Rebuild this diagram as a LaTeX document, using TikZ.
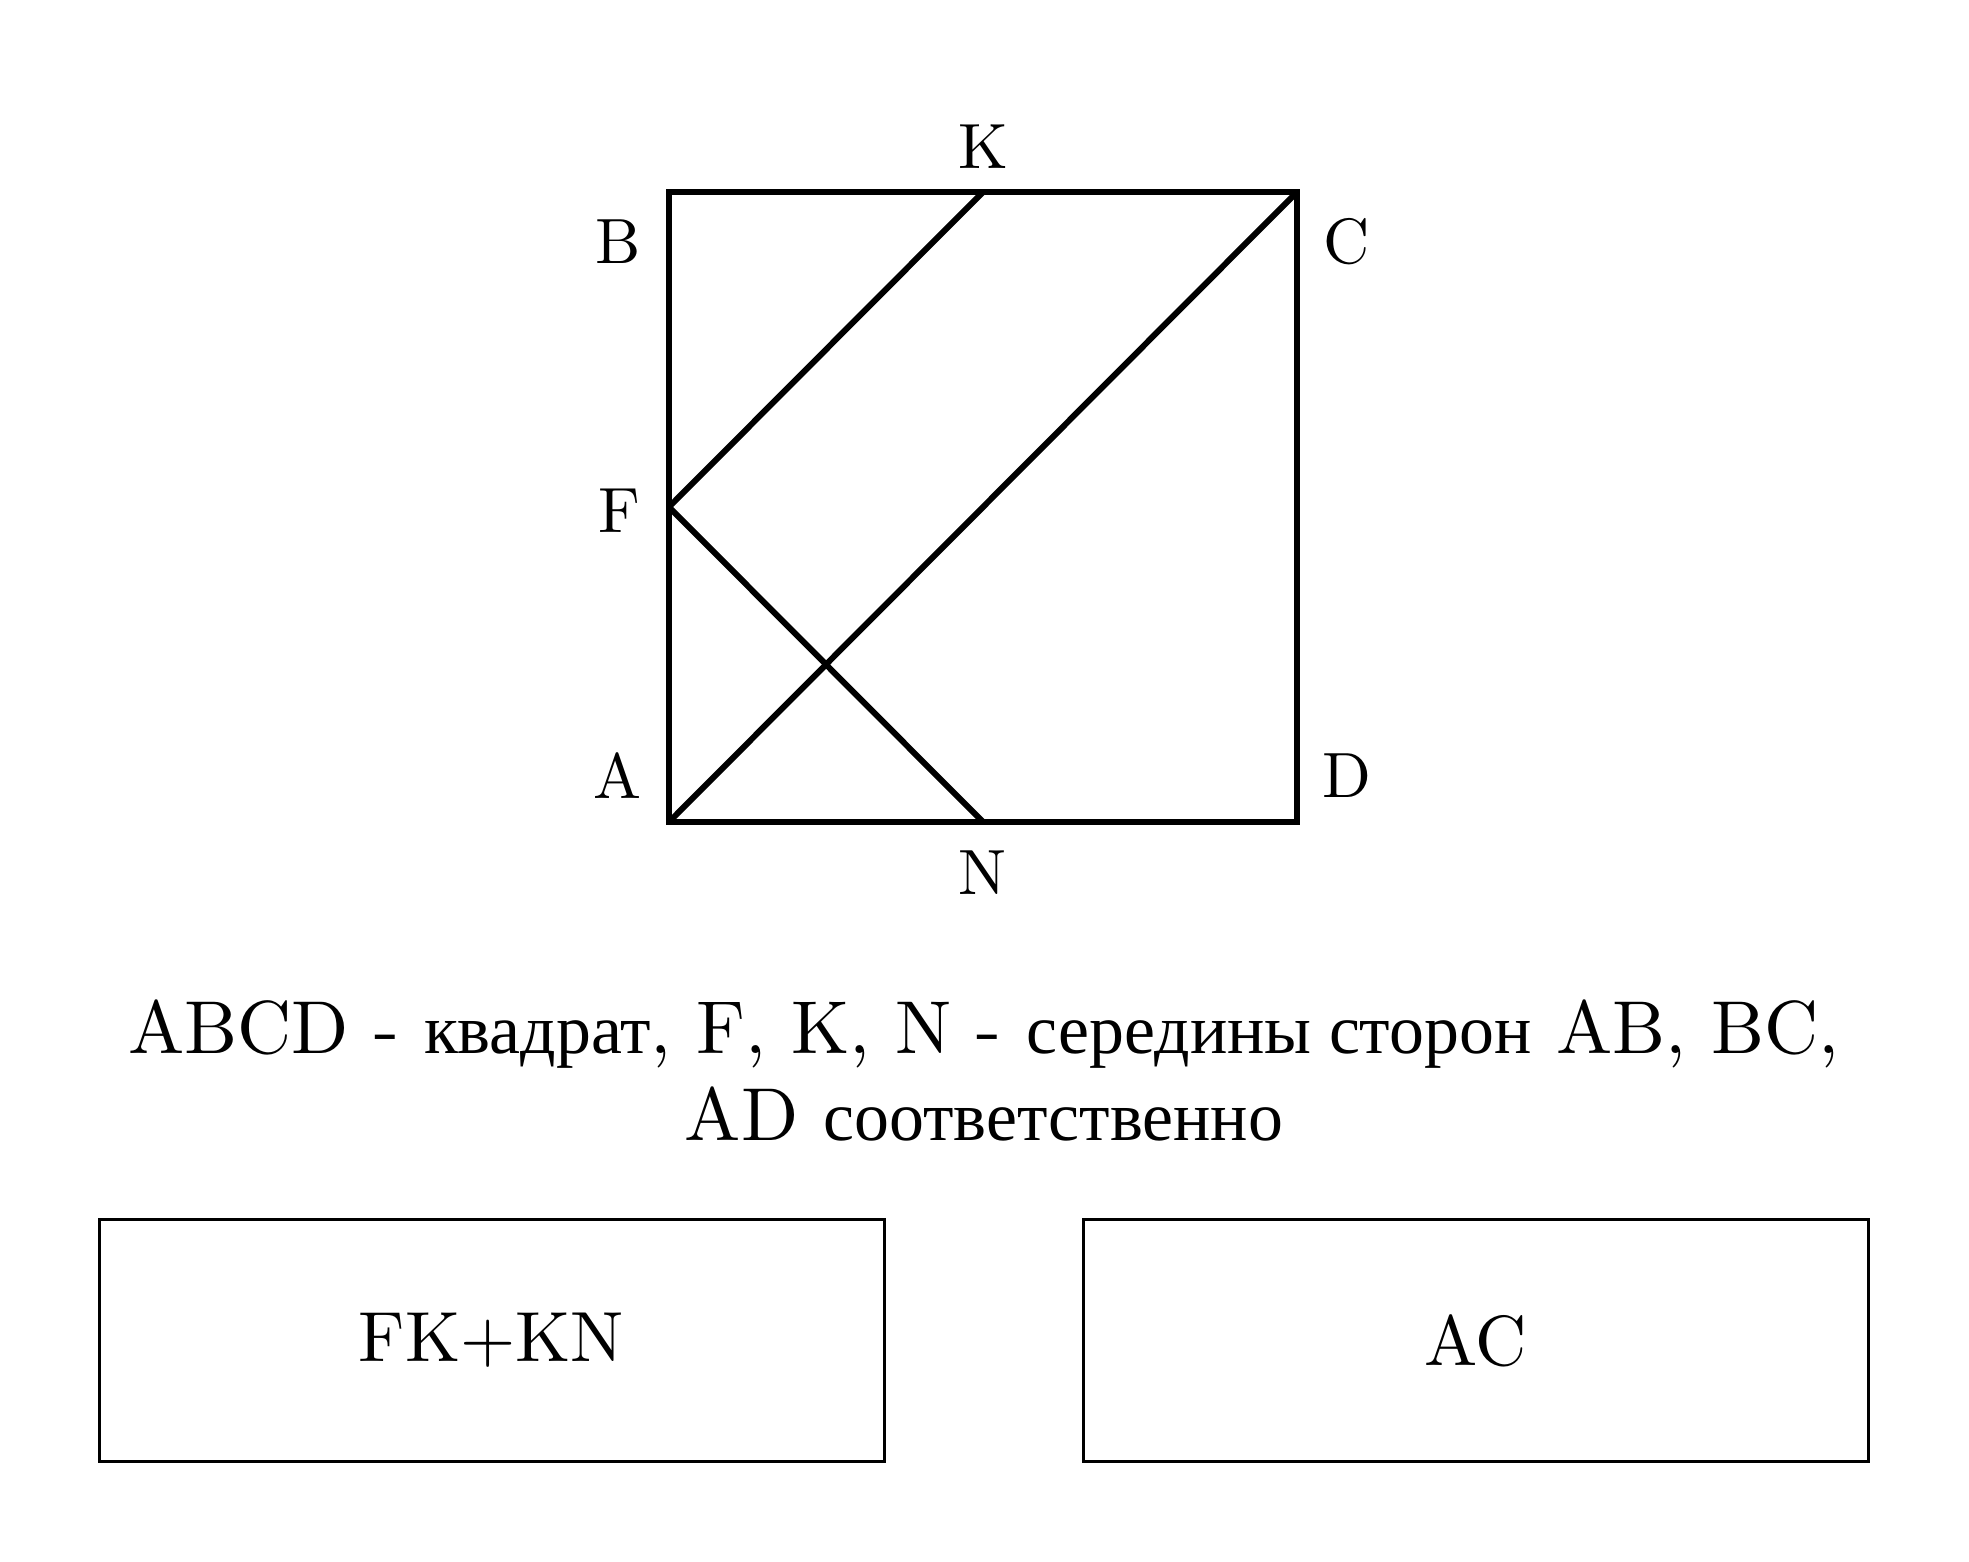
\documentclass[tikz,border=0pt]{standalone}
\usepackage{fontspec}
\setmainfont{lmroman10-regular.otf}
\newfontfamily\cyr{Liberation Serif}[Scale=0.93]
\begin{document}
\begin{tikzpicture}[x=0.5pt,y=-0.5pt,
  geo/.style={line width=3pt,line join=miter},
  lab/.style={inner sep=0pt,font=\fontsize{32}{38}\selectfont},
  ansbox/.style={draw,line width=1.5pt,minimum width=392.5pt,minimum height=121pt,inner sep=0pt,font=\fontsize{35.5}{42}\selectfont}]
\useasboundingbox (0,0) rectangle (1969,1562);
\coordinate (A) at (669,822);
\coordinate (B) at (669,192);
\coordinate (C) at (1297,192);
\coordinate (D) at (1297,822);
\coordinate (K) at (983,192);
\coordinate (F) at (669,507);
\coordinate (N) at (983,822);
\draw[geo] (A) -- (B) -- (C) -- (D) -- cycle;
\draw[geo] (F) -- (K);
\draw[geo] (A) -- (C);
\draw[geo] (F) -- (N);
\node[lab] (lK) at (983,147) {K};
\node[lab] (lB) at (618,242) {B};
\node[lab] (lC) at (1347,242) {C};
\node[lab] (lF) at (619,511) {F};
\node[lab] (lA) at (617,776) {A};
\node[lab] (lD) at (1347,776) {D};
\node[lab] (lN) at (982,873) {N};
\node[inner sep=0pt,align=center,font=\fontsize{37.5}{43.5}\selectfont] (cap) at (984,1070)
  {ABCD - {\cyr квадрат}, F, K, N - {\cyr середины сторон} AB, BC,\\ AD {\cyr соответственно}};
\node[ansbox] (b1) at (491.5,1340.5) {FK+KN};
\node[ansbox] (b2) at (1475.5,1340.5) {AC};
\end{tikzpicture}
\end{document}
